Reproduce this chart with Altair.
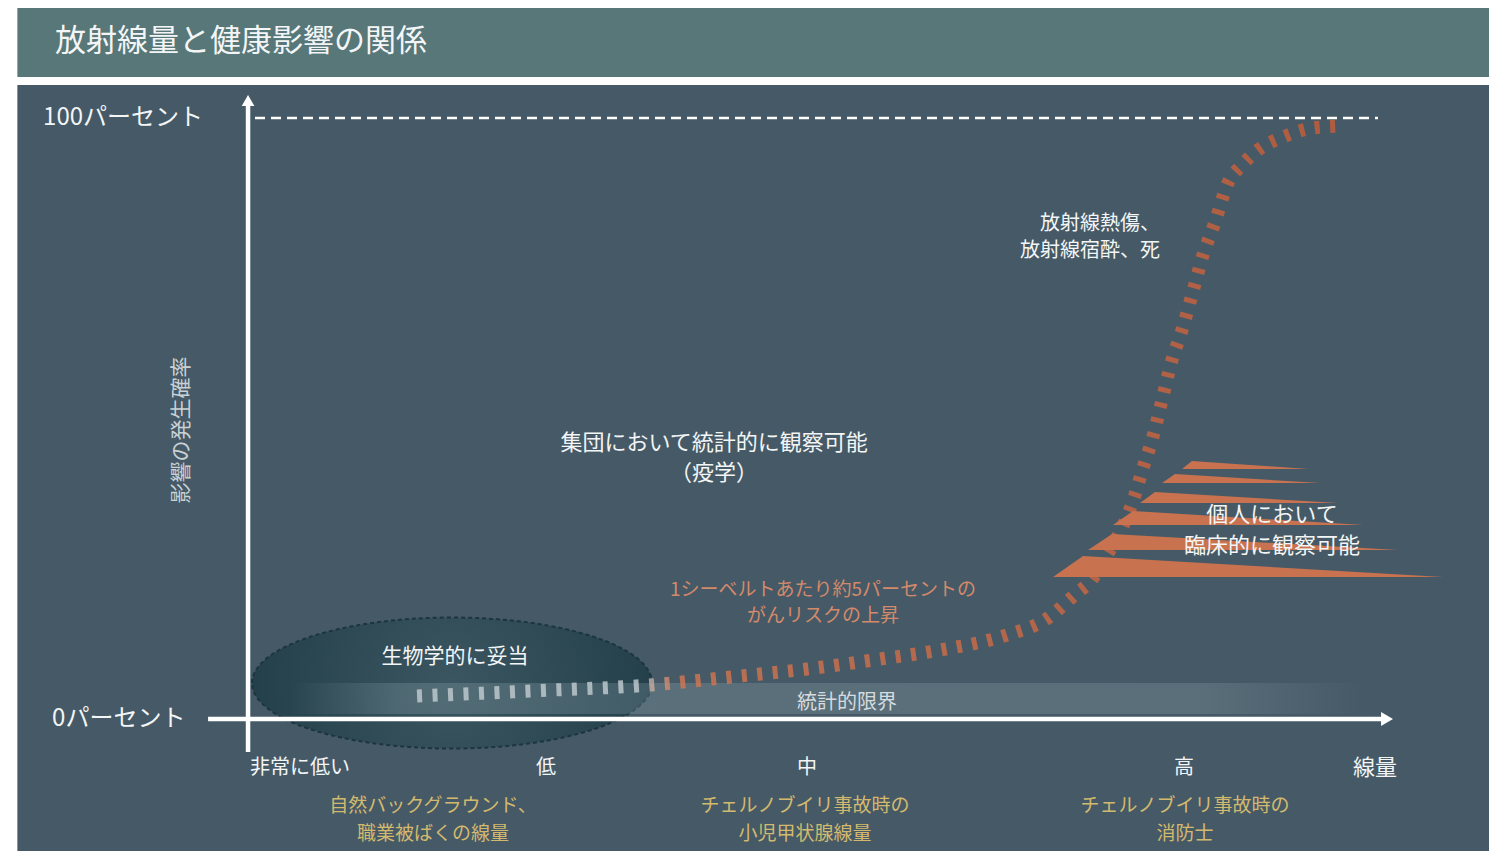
import altair as alt
import pandas as pd

FONT = "Noto Sans CJK JP"

# Frame: dose on a 0..100 relative scale (0 = origin, 100 = arrow tip),
# probability of effect in percent (0 .. 100)
X_DOMAIN = [-21.02, 108.67]
Y_DOMAIN = [-21.96, 118.30]

# ---- data ---------------------------------------------------------------
curve_dose = [14.80, 24.69, 35.20, 43.08, 48.95, 55.34, 60.60, 66.46, 69.79,
              72.59, 73.73, 75.22, 76.53, 77.58, 78.37, 79.16, 80.04, 80.91,
              81.79, 82.66, 83.63, 84.68, 85.81, 87.04, 88.44, 90.63, 93.26, 95.80]
curve_pct = [3.83, 4.66, 5.66, 7.15, 8.32, 9.98, 11.48, 13.98, 16.47,
             20.97, 22.80, 27.29, 31.78, 36.77, 41.76, 46.42, 53.08, 59.73,
             64.73, 70.55, 77.20, 82.70, 89.18, 92.18, 94.68, 96.84, 98.34, 98.67]

# clinical-observation wedges (dose where they start / peak / fade, percent base / top)
wedge_start = [81.79, 80.04, 78.11, 75.74, 73.56, 70.49]
wedge_peak = [82.66, 81.17, 79.42, 77.50, 75.66, 73.12]
wedge_end = [92.82, 93.87, 95.45, 97.64, 100.70, 104.64]
wedge_base = [41.60, 39.27, 35.94, 32.28, 28.12, 23.63]
wedge_top = [42.93, 40.77, 37.77, 34.61, 30.78, 27.12]

dose_levels = ["非常に低い", "低", "中", "高"]
dose_level_pos = [4.55, 26.09, 48.95, 81.96]

example_line1 = ["自然バックグラウンド、", "チェルノブイリ事故時の", "チェルノブイリ事故時の"]
example_line2 = ["職業被ばくの線量", "小児甲状腺線量", "消防士"]
example_pos = [16.2, 48.77, 82.05]

pct_labels = ["100パーセント", "0パーセント"]
pct_values = [100, 0]

TITLE = "放射線量と健康影響の関係"

# ---- colours --------------------------------------------------------------
BAR = "#577779"
PANEL = "#455a66"
WHITE = "#f3f5f6"
ORANGE = "#c97250"
GOLD = "#d3b96e"
SALMON = "#d4896b"

xs = alt.Scale(domain=X_DOMAIN, nice=False, zero=False)
ys = alt.Scale(domain=Y_DOMAIN, nice=False, zero=False)


def X(f="x"):
    return alt.X(f"{f}:Q", scale=xs, axis=None)


def Y(f="y"):
    return alt.Y(f"{f}:Q", scale=ys, axis=None, stack=None)


def rect(x, x2, y, y2, **kw):
    d = pd.DataFrame({"x": [x], "x2": [x2], "y": [y], "y2": [y2]})
    return alt.Chart(d).mark_rect(**kw).encode(x=X(), x2="x2:Q", y=Y(), y2="y2:Q")


def rule(x, x2, y, y2, **kw):
    d = pd.DataFrame({"x": [x], "x2": [x2], "y": [y], "y2": [y2]})
    return alt.Chart(d).mark_rule(**kw).encode(x=X(), x2="x2:Q", y=Y(), y2="y2:Q")


def texts(xv, yv, labels, size, color, align="center", angle=0, weight="normal"):
    d = pd.DataFrame({"x": xv, "y": yv, "t": labels})
    kw = dict(font=FONT, fontSize=size, color=color, align=align,
              baseline="middle", fontWeight=weight)
    if angle:
        kw["angle"] = angle
    return alt.Chart(d).mark_text(**kw).encode(x=X(), y=Y(), text="t:N")


layers = []

# header bar and panel
layers.append(rect(-20.2, 108.67, 118.3, 106.82, color=BAR))
layers.append(rect(-20.2, 108.67, 105.49, -21.96, color=PANEL))
layers.append(texts([-16.9], [112.65], [TITLE], 31, WHITE, align="left"))

# ellipse "biologically plausible"
ell = ("M -1 0 C -1 -0.1809 -0.5523 -0.3275 0 -0.3275 "
       "C 0.5523 -0.3275 1 -0.1809 1 0 C 1 0.1809 0.5523 0.3275 0 0.3275 "
       "C -0.5523 0.3275 -1 0.1809 -1 0 Z")
ell_df = pd.DataFrame({"x": [17.86], "y": [5.99]})
layers.append(
    alt.Chart(ell_df).mark_point(
        shape=ell, size=160000, filled=True, opacity=1,
        fill={"gradient": "radial", "x1": 0.5, "y1": 0.5, "r1": 0,
              "x2": 0.5, "y2": 0.5, "r2": 0.5,
              "stops": [{"offset": 0, "color": "#3b5661"},
                        {"offset": 1, "color": "#24404b"}]},
        stroke="#1c3540", strokeWidth=2, strokeDash=[4, 3],
    ).encode(x=X(), y=Y())
)

# axes
layers.append(rule(0, 0, -5.49, 102.3, color="white", strokeWidth=4.5))
layers.append(rule(-3.5, 99.4, 0, 0, color="white", strokeWidth=4.5))
layers.append(
    alt.Chart(pd.DataFrame({"x": [0], "y": [102.91]})).mark_point(
        shape="triangle-up", size=160, filled=True, color="white", opacity=1
    ).encode(x=X(), y=Y())
)
layers.append(
    alt.Chart(pd.DataFrame({"x": [99.74], "y": [0]})).mark_point(
        shape="triangle-right", size=190, filled=True, color="white", opacity=1
    ).encode(x=X(), y=Y())
)
# 100 percent dashed line
layers.append(rule(0.61, 98.95, 100, 100, color="white", strokeWidth=2.5,
                   strokeDash=[10, 6]))

# statistical-limit band
band_grad = {"gradient": "linear", "x1": 0, "x2": 1, "y1": 0, "y2": 0,
             "stops": [{"offset": 0, "color": "rgba(160,182,190,0)"},
                       {"offset": 0.1, "color": "rgba(160,182,190,0.24)"},
                       {"offset": 0.85, "color": "rgba(160,182,190,0.22)"},
                       {"offset": 1, "color": "rgba(160,182,190,0)"}]}
layers.append(rect(3.68, 97.81, 0.83, 5.99, fill=band_grad))
streak_grad = {"gradient": "linear", "x1": 0, "x2": 1, "y1": 0, "y2": 0,
               "stops": [{"offset": 0, "color": "rgba(190,206,212,0)"},
                         {"offset": 0.15, "color": "rgba(190,206,212,0.35)"},
                         {"offset": 0.85, "color": "rgba(190,206,212,0.25)"},
                         {"offset": 1, "color": "rgba(190,206,212,0)"}]}
for yy in (5.16, 3.83, 2.16):
    layers.append(rule(3.68, 97.81, yy, yy, stroke=streak_grad, strokeWidth=2.5))

# dose-response curve (coil-like dashes)
curve_df = pd.DataFrame({"x": curve_dose, "y": curve_pct})
curve_grad = {"gradient": "linear", "x1": 0, "x2": 1, "y1": 0, "y2": 0,
              "stops": [{"offset": 0, "color": "#c3cdd1"},
                        {"offset": 0.24, "color": "#c3cdd1"},
                        {"offset": 0.28, "color": "#d57752"},
                        {"offset": 1, "color": "#c95c36"}]}
layers.append(
    alt.Chart(curve_df).mark_line(
        stroke=curve_grad, strokeWidth=13, strokeDash=[5, 10.5],
        interpolate="monotone", opacity=0.8
    ).encode(x=X(), y=Y(), order="x:Q")
)

# wedges
rows = []
for i in range(len(wedge_start)):
    rows += [
        {"w": i, "x": wedge_start[i], "y": wedge_base[i], "y2": wedge_base[i]},
        {"w": i, "x": wedge_peak[i], "y": wedge_top[i], "y2": wedge_base[i]},
        {"w": i, "x": wedge_end[i], "y": wedge_base[i], "y2": wedge_base[i]},
    ]
wedge_df = pd.DataFrame(rows)
layers.append(
    alt.Chart(wedge_df).mark_area(color=ORANGE, opacity=1, interpolate="linear").encode(
        x=X(), y=Y(), y2="y2:Q", detail="w:N"
    )
)

# annotation texts
layers.append(texts([-17.95, -17.16], pct_values, pct_labels, 24, WHITE, align="left"))
layers.append(texts([-5.78], [48.09], ["影響の発生確率"], 21, "#c9d1d5", angle=270))
layers.append(texts([40.81, 40.81], [45.92, 40.93],
                    ["集団において統計的に観察可能", "（疫学）"], 22, WHITE))
layers.append(texts([79.86, 79.86], [82.36, 77.87],
                    ["放射線熱傷、", "放射線宿酔、死"], 20, WHITE, align="right"))
layers.append(texts([89.67, 89.67], [33.94, 28.79],
                    ["個人において", "臨床的に観察可能"], 22, WHITE))
layers.append(texts([50.35, 50.35], [21.46, 17.14],
                    ["1シーベルトあたり約5パーセントの", "がんリスクの上昇"], 19, SALMON))
layers.append(texts([18.13], [10.32], ["生物学的に妥当"], 21, WHITE))
layers.append(texts([52.45], [2.66], ["統計的限界"], 20, "#d5dcdf"))
layers.append(texts(dose_level_pos, [-8.15] * 4, dose_levels, 20, WHITE))
layers.append(texts([98.69], [-8.15], ["線量"], 22, WHITE))
layers.append(texts(example_pos, [-14.48] * 3, example_line1, 19, GOLD))
layers.append(texts(example_pos, [-19.13] * 3, example_line2, 19, GOLD))

chart = alt.layer(*layers).properties(
    width=1481, height=843,
    autosize=alt.AutoSizeParams(type="none"),
    padding=0, background="white",
).configure_view(stroke=None)

chart.save("out.html", embed_options={"renderer": "svg", "actions": False})
